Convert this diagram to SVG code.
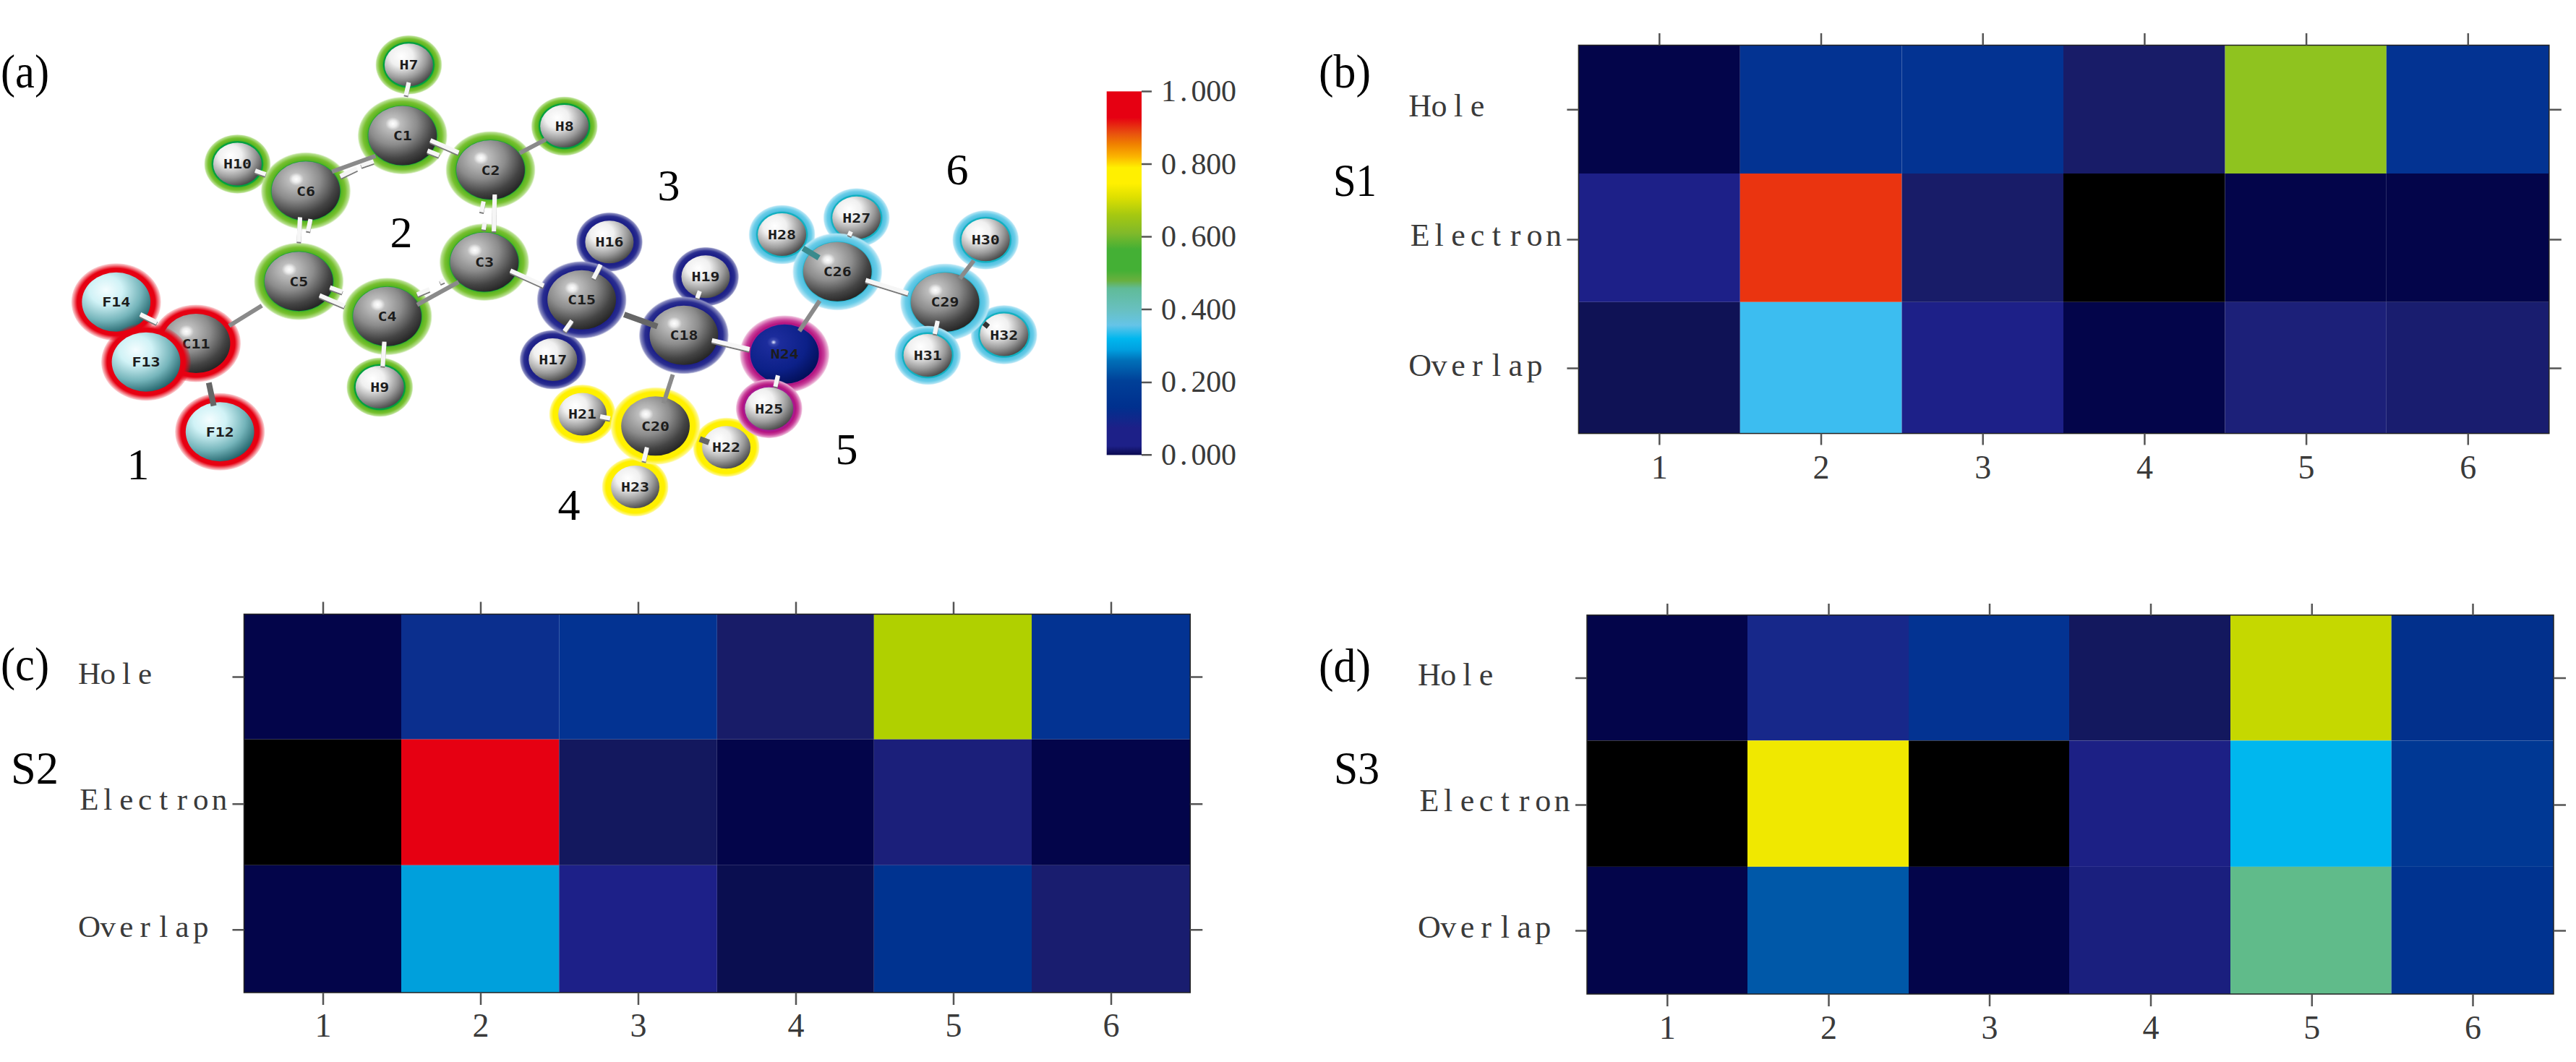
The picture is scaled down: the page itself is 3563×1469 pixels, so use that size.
<svg xmlns="http://www.w3.org/2000/svg" width="3563" height="1469" viewBox="0 0 3563 1469">
<style>
.t{font-family:"Liberation Serif",serif;fill:#000}
.pl{font-size:65px}.sl{font-size:64px}.num{font-size:62px;text-anchor:middle}
.m{font-family:"Liberation Serif",serif;fill:#3a3a3a;font-size:44px;text-anchor:middle}
.mc{font-size:43px}.xl{font-size:46px}
.cb{font-size:42px}
.tick{stroke:#555;stroke-width:2.5;fill:none}
.frame{fill:none;stroke:#222;stroke-width:1.5}
.al{font-family:"DejaVu Sans Mono",monospace;font-weight:700;font-size:18px;fill:#1c1c1c;text-anchor:middle;transform:scale(1.2,1)}
.C{rx:47.4px;ry:41px;fill:url(#sC)}
.H{rx:33.5px;ry:29.5px;fill:url(#sH)}
.F{rx:47.4px;ry:41px;fill:url(#sF)}
.N{rx:47.4px;ry:41px;fill:url(#sN)}
.hb{rx:62px;ry:53.5px}
.hs{rx:46px;ry:41px}
.r{fill:url(#hR)}.g{fill:url(#hG)}.b{fill:url(#hB)}.y{fill:url(#hY)}.p{fill:url(#hP)}.c{fill:url(#hC)}
.bw{stroke:#f6f6f6;stroke-width:6;fill:none}
.bg{stroke:#8a8a8a;stroke-width:6;fill:none}
.bd{stroke:#666;stroke-width:8;fill:none}
.bt{stroke:#3a8a8c;stroke-width:8;fill:none}
</style>
<defs>
<radialGradient id="sC" cx=".36" cy=".3" r=".78"><stop offset="0" stop-color="#fff"/><stop offset=".07" stop-color="#ececec"/><stop offset=".14" stop-color="#bdbdbd"/><stop offset=".45" stop-color="#8c8c8c"/><stop offset=".75" stop-color="#444"/><stop offset="1" stop-color="#1c1c1c"/></radialGradient>
<radialGradient id="sH" cx=".35" cy=".3" r=".8"><stop offset="0" stop-color="#fff"/><stop offset=".3" stop-color="#f0f0f0"/><stop offset=".65" stop-color="#9a9a9a"/><stop offset="1" stop-color="#333"/></radialGradient>
<radialGradient id="sF" cx=".35" cy=".3" r=".8"><stop offset="0" stop-color="#f4fdff"/><stop offset=".3" stop-color="#d0f2f6"/><stop offset=".65" stop-color="#74b4ba"/><stop offset="1" stop-color="#0f5058"/></radialGradient>
<radialGradient id="sN" cx=".34" cy=".3" r=".8"><stop offset="0" stop-color="#e8ecff"/><stop offset=".05" stop-color="#3a48b0"/><stop offset=".12" stop-color="#1c2c9c"/><stop offset=".6" stop-color="#0c2088"/><stop offset="1" stop-color="#000c50"/></radialGradient>
<radialGradient id="hR"><stop offset=".78" stop-color="#e60012"/><stop offset=".87" stop-color="#e60012"/><stop offset="1" stop-color="#e60012" stop-opacity=".15"/></radialGradient>
<radialGradient id="hG"><stop offset=".76" stop-color="#00a040"/><stop offset=".79" stop-color="#58b420"/><stop offset=".88" stop-color="#78c030"/><stop offset=".97" stop-color="#b8e090"/><stop offset="1" stop-color="#c8e8a8" stop-opacity=".3"/></radialGradient>
<radialGradient id="hB"><stop offset=".78" stop-color="#1d2088"/><stop offset=".87" stop-color="#2a2e90"/><stop offset=".97" stop-color="#8a8cc0"/><stop offset="1" stop-color="#a0a2d0" stop-opacity=".3"/></radialGradient>
<radialGradient id="hY"><stop offset=".78" stop-color="#fff000"/><stop offset=".88" stop-color="#fff000"/><stop offset=".97" stop-color="#fff880"/><stop offset="1" stop-color="#fff880" stop-opacity=".3"/></radialGradient>
<radialGradient id="hP"><stop offset=".76" stop-color="#a81890"/><stop offset=".8" stop-color="#b5157f"/><stop offset=".88" stop-color="#c8409a"/><stop offset=".97" stop-color="#e8a8d0"/><stop offset="1" stop-color="#e8a8d0" stop-opacity=".3"/></radialGradient>
<radialGradient id="hC"><stop offset=".76" stop-color="#10b0c0"/><stop offset=".79" stop-color="#50c0e0"/><stop offset=".88" stop-color="#68cce8"/><stop offset=".97" stop-color="#b0e4f4"/><stop offset="1" stop-color="#c0e8f8" stop-opacity=".3"/></radialGradient>
<linearGradient id="bar" x1="0" y1="0" x2="0" y2="1">
<stop offset="0" stop-color="#e60012"/><stop offset=".072" stop-color="#e60012"/><stop offset=".115" stop-color="#e8500f"/><stop offset=".145" stop-color="#f08000"/><stop offset=".18" stop-color="#fbb500"/><stop offset=".21" stop-color="#fff000"/><stop offset=".253" stop-color="#fff000"/><stop offset=".29" stop-color="#dfe000"/><stop offset=".34" stop-color="#a5c811"/><stop offset=".39" stop-color="#80b92a"/><stop offset=".434" stop-color="#44b035"/><stop offset=".492" stop-color="#44b035"/><stop offset=".52" stop-color="#68b03e"/><stop offset=".542" stop-color="#60bb98"/><stop offset=".6" stop-color="#68c0c0"/><stop offset=".643" stop-color="#65c4e8"/><stop offset=".68" stop-color="#00b7ee"/><stop offset=".71" stop-color="#00a0e0"/><stop offset=".74" stop-color="#0070b8"/><stop offset=".796" stop-color="#004098"/><stop offset=".868" stop-color="#00308e"/><stop offset=".926" stop-color="#1d2088"/><stop offset=".975" stop-color="#1d2088"/><stop offset="1" stop-color="#0a0a50"/>
</linearGradient>
<filter id="edge" x="-20%" y="-20%" width="140%" height="140%"><feDropShadow dx="0" dy="2" stdDeviation="0" flood-color="#777"/></filter>
</defs>
<rect width="3563" height="1469" fill="#fff"/>

<g id="atoms">
<g id="F14" transform="translate(160.7,417.8)"><ellipse class="hb r"/><ellipse class="F"/><text class="al" y="6.5">F14</text></g>
<g id="C11" transform="translate(271,475)"><ellipse class="hb r"/><ellipse class="C"/><text class="al" y="6.5">C11</text></g>
<g id="F12" transform="translate(304.2,597.2)"><ellipse class="hb r"/><ellipse class="F"/><text class="al" y="6.5">F12</text></g>
<g id="F13" transform="translate(202,500.7)"><ellipse class="hb r"/><ellipse class="F"/><text class="al" y="6.5">F13</text></g>
<g id="H7" transform="translate(565.4,89.7)"><ellipse class="hs g"/><ellipse class="H"/><text class="al" y="6.5">H7</text></g>
<g id="H8" transform="translate(780.7,174.5)"><ellipse class="hs g"/><ellipse class="H"/><text class="al" y="6.5">H8</text></g>
<g id="H10" transform="translate(328.4,226.9)"><ellipse class="hs g"/><ellipse class="H"/><text class="al" y="6.5">H10</text></g>
<g id="H9" transform="translate(525.3,535.6)"><ellipse class="hs g"/><ellipse class="H"/><text class="al" y="6.5">H9</text></g>
<g id="C1" transform="translate(556.8,187.6)"><ellipse class="hb g"/><ellipse class="C"/><text class="al" y="6.5">C1</text></g>
<g id="C2" transform="translate(678.5,235)"><ellipse class="hb g"/><ellipse class="C"/><text class="al" y="6.5">C2</text></g>
<g id="C6" transform="translate(423,264.2)"><ellipse class="hb g"/><ellipse class="C"/><text class="al" y="6.5">C6</text></g>
<g id="C5" transform="translate(413.3,389.2)"><ellipse class="hb g"/><ellipse class="C"/><text class="al" y="6.5">C5</text></g>
<g id="C3" transform="translate(669.9,362.6)"><ellipse class="hb g"/><ellipse class="C"/><text class="al" y="6.5">C3</text></g>
<g id="C4" transform="translate(535.6,437.7)"><ellipse class="hb g"/><ellipse class="C"/><text class="al" y="6.5">C4</text></g>
<g id="H16" transform="translate(842.9,334.8)"><ellipse class="hs b"/><ellipse class="H"/><text class="al" y="6.5">H16</text></g>
<g id="H17" transform="translate(764.8,497.5)"><ellipse class="hs b"/><ellipse class="H"/><text class="al" y="6.5">H17</text></g>
<g id="H19" transform="translate(976,382.7)"><ellipse class="hs b"/><ellipse class="H"/><text class="al" y="6.5">H19</text></g>
<g id="C15" transform="translate(804.6,414.8)"><ellipse class="hb b"/><ellipse class="C"/><text class="al" y="6.5">C15</text></g>
<g id="C18" transform="translate(945.9,463.8)"><ellipse class="hb b"/><ellipse class="C"/><text class="al" y="6.5">C18</text></g>
<g id="H22" transform="translate(1004.6,618.8)"><ellipse class="hs y"/><ellipse class="H"/><text class="al" y="6.5">H22</text></g>
<g id="H21" transform="translate(805.6,572.9)"><ellipse class="hs y"/><ellipse class="H"/><text class="al" y="6.5">H21</text></g>
<g id="H23" transform="translate(878.6,673.5)"><ellipse class="hs y"/><ellipse class="H"/><text class="al" y="6.5">H23</text></g>
<g id="C20" transform="translate(906.6,589.3)"><ellipse class="hb y"/><ellipse class="C"/><text class="al" y="6.5">C20</text></g>
<g id="N24" transform="translate(1085.2,489.8)"><ellipse class="hb p"/><ellipse class="N"/><text class="al" y="6.5">N24</text></g>
<g id="H25" transform="translate(1063.8,565.2)"><ellipse class="hs p"/><ellipse class="H"/><text class="al" y="6.5">H25</text></g>
<g id="H27" transform="translate(1184.7,301.2)"><ellipse class="hs c"/><ellipse class="H"/><text class="al" y="6.5">H27</text></g>
<g id="H28" transform="translate(1081.6,324.5)"><ellipse class="hs c"/><ellipse class="H"/><text class="al" y="6.5">H28</text></g>
<g id="C26" transform="translate(1158.2,375.8)"><ellipse class="hb c"/><ellipse class="C"/><text class="al" y="6.5">C26</text></g>
<g id="H30" transform="translate(1363.3,331.8)"><ellipse class="hs c"/><ellipse class="H"/><text class="al" y="6.5">H30</text></g>
<g id="H32" transform="translate(1388.8,463)"><ellipse class="hs c"/><ellipse class="H"/><text class="al" y="6.5">H32</text></g>
<g id="C29" transform="translate(1307.1,417.9)"><ellipse class="hb c"/><ellipse class="C"/><text class="al" y="6.5">C29</text></g>
<g id="H31" transform="translate(1283.2,491.4)"><ellipse class="hs c"/><ellipse class="H"/><text class="al" y="6.5">H31</text></g>
</g>

<g id="connectors">
<g filter="url(#edge)" class="bw">
<path d="M565.4 114L561.4 131.8"/>
<path d="M595.3 193.9L634.3 210.9"/>
<path d="M591.3 208.4L607.3 214.7"/>
<path d="M684.3 269L683.1 320"/>
<path d="M668.8 278.7L665.9 293.3"/>
<path d="M670.5 307.8L668.8 317.5"/>
<path d="M353 236L367.4 241"/>
<path d="M415 300.5L413.3 334.5"/>
<path d="M429.4 303L426 320"/>
<path d="M442 408.6L476.5 423.2"/>
<path d="M456.4 397.5L473.6 403.8"/>
<path d="M577 407.2L594.1 399.9"/>
<path d="M608.5 390.2L614.2 387.8"/>
<path d="M531.6 472.6L529.3 506.5"/>
<path d="M706 374.2L752 395"/>
<path d="M194 434.8L217 446"/>
<path d="M984.7 470.7L1036.7 483"/>
<path d="M830.1 576L843.9 578.6"/>
<path d="M1076 519.3L1072.4 534.6"/>
<path d="M1197.4 387.3L1256.1 405.6"/>
<path d="M499.4 228.8L516.7 223"/>
<path d="M470.7 243.8L493.7 232.7"/>
<path d="M791 443.5L780.7 458"/>
<path d="M830.7 366L820.9 385.4"/>
<path d="M967.9 402.6L964.3 412.2"/>
<path d="M894.9 618.8L890.3 638"/>
<path d="M1296.9 443.9L1292.9 461.9"/>
<path d="M1177 320.3L1174.5 326"/>
</g>
<g class="bg">
<path d="M519.5 215.7L459.2 237.5"/>
<path d="M718.7 211.8L754.9 192.9"/>
<path d="M577 421.7L634.3 390.2"/>
<path d="M362.2 422.7L316.9 450.8"/>
<path d="M930.6 518.2L917.9 557.6"/>
<path d="M1133.7 416L1105.6 458"/>
<path d="M1346.9 360.5L1327.6 385.4"/>
</g>
<g class="bd">
<path d="M288.8 529.3L295.6 561.3"/>
<path d="M863.3 435L909.2 451.6"/>
<path d="M967.9 607.3L980.6 611.9"/>
</g>
<path class="bt" d="M1110.7 343.3L1132.7 356.7"/>
<path d="M1361 447L1367 452" stroke="#333" stroke-width="7" fill="none"/>
</g>

<g id="panel-a-labels">
<text class="t pl" x="1" y="121" textLength="67" lengthAdjust="spacingAndGlyphs">(a)</text>
<text class="t num" x="191" y="663">1</text>
<text class="t num" x="555" y="342">2</text>
<text class="t num" x="925" y="277">3</text>
<text class="t num" x="787" y="719">4</text>
<text class="t num" x="1171" y="642">5</text>
<text class="t num" x="1324" y="255">6</text>
</g>

<g id="colorbar">
<rect x="1530.7" y="126.4" width="48.3" height="503" fill="url(#bar)"/>
<path class="tick" d="M1579 126.4h14M1579 227h14M1579 327.5h14M1579 428h14M1579 529h14M1579 629.3h14"/>
<g class="m cb">
<text x="1616.4 1637.2 1658 1678.8 1699.6" y="139.5">1.000</text>
<text x="1616.4 1637.2 1658 1678.8 1699.6" y="240.5">0.800</text>
<text x="1616.4 1637.2 1658 1678.8 1699.6" y="341">0.600</text>
<text x="1616.4 1637.2 1658 1678.8 1699.6" y="441.5">0.400</text>
<text x="1616.4 1637.2 1658 1678.8 1699.6" y="542">0.200</text>
<text x="1616.4 1637.2 1658 1678.8 1699.6" y="642.7">0.000</text>
</g>
</g>

<g id="panel-b">
<g id="b-cells">
<rect x="2183.4" y="62.5" width="223.4" height="177.5" fill="#03054a"/>
<rect x="2406.8" y="62.5" width="223.7" height="177.5" fill="#033392"/>
<rect x="2630.5" y="62.5" width="223.5" height="177.5" fill="#033392"/>
<rect x="2854" y="62.5" width="223.6" height="177.5" fill="#181c68"/>
<rect x="3077.6" y="62.5" width="223.2" height="177.5" fill="#8fc31f"/>
<rect x="3300.8" y="62.5" width="225" height="177.5" fill="#033392"/>
<rect x="2183.4" y="240" width="223.4" height="177.8" fill="#1d2088"/>
<rect x="2406.8" y="240" width="223.7" height="177.8" fill="#ea3410"/>
<rect x="2630.5" y="240" width="223.5" height="177.8" fill="#181c68"/>
<rect x="2854" y="240" width="223.6" height="177.8" fill="#000"/>
<rect x="3077.6" y="240" width="223.2" height="177.8" fill="#03054a"/>
<rect x="3300.8" y="240" width="225" height="177.8" fill="#03054a"/>
<rect x="2183.4" y="417.8" width="223.4" height="181.8" fill="#0f1255"/>
<rect x="2406.8" y="417.8" width="223.7" height="181.8" fill="#3cbdf0"/>
<rect x="2630.5" y="417.8" width="223.5" height="181.8" fill="#1d2088"/>
<rect x="2854" y="417.8" width="223.6" height="181.8" fill="#03054a"/>
<rect x="3077.6" y="417.8" width="223.2" height="181.8" fill="#1c2079"/>
<rect x="3300.8" y="417.8" width="225" height="181.8" fill="#191d6f"/>
</g>
<rect class="frame" x="2183.4" y="62.5" width="1342.4" height="537.1"/>
<path class="tick" d="M2295.3 46v16.5M2519 46v16.5M2742.7 46v16.5M2966.4 46v16.5M3190.1 46v16.5M3413.8 46v16.5M2295.3 599.6v16M2519 599.6v16M2742.7 599.6v16M2966.4 599.6v16M3190.1 599.6v16M3413.8 599.6v16M2167.4 151.7h16M2167.4 331.6h16M2167.4 509.5h16M3525.8 151.7h17M3525.8 331.6h17M3525.8 509.5h17"/>
<text class="m" x="1964.2 1990.6 2017 2043.4" y="161.4">Hole</text>
<text class="m" x="1964.2 1990.6 2017 2043.4 2069.8 2096.2 2122.6 2149" y="340.3">Electron</text>
<text class="m" x="1964.2 1990.6 2017 2043.4 2069.8 2096.2 2122.6" y="519.6">Overlap</text>
<g class="m xl">
<text x="2295.3" y="661.6">1</text><text x="2519" y="661.6">2</text><text x="2742.7" y="661.6">3</text><text x="2966.4" y="661.6">4</text><text x="3190.1" y="661.6">5</text><text x="3413.8" y="661.6">6</text>
</g>
<text class="t pl" x="1824" y="121" textLength="72" lengthAdjust="spacingAndGlyphs">(b)</text>
<text class="t sl" x="1844" y="271.4" textLength="60" lengthAdjust="spacingAndGlyphs">S1</text>
</g>

<g id="panel-c">
<g id="c-cells">
<rect x="337.5" y="849.5" width="217.5" height="173.2" fill="#03054a"/>
<rect x="555" y="849.5" width="218.3" height="173.2" fill="#0b2f8e"/>
<rect x="773.3" y="849.5" width="218.5" height="173.2" fill="#033392"/>
<rect x="991.8" y="849.5" width="217" height="173.2" fill="#181c68"/>
<rect x="1208.8" y="849.5" width="218.2" height="173.2" fill="#b0d000"/>
<rect x="1427" y="849.5" width="219.3" height="173.2" fill="#033392"/>
<rect x="337.5" y="1022.7" width="217.5" height="174.1" fill="#000"/>
<rect x="555" y="1022.7" width="218.3" height="174.1" fill="#e60012"/>
<rect x="773.3" y="1022.7" width="218.5" height="174.1" fill="#13185e"/>
<rect x="991.8" y="1022.7" width="217" height="174.1" fill="#03054a"/>
<rect x="1208.8" y="1022.7" width="218.2" height="174.1" fill="#1b1f7a"/>
<rect x="1427" y="1022.7" width="219.3" height="174.1" fill="#03054a"/>
<rect x="337.5" y="1196.8" width="217.5" height="176.2" fill="#03054a"/>
<rect x="555" y="1196.8" width="218.3" height="176.2" fill="#00a0dc"/>
<rect x="773.3" y="1196.8" width="218.5" height="176.2" fill="#1d2088"/>
<rect x="991.8" y="1196.8" width="217" height="176.2" fill="#0a0e50"/>
<rect x="1208.8" y="1196.8" width="218.2" height="176.2" fill="#003390"/>
<rect x="1427" y="1196.8" width="219.3" height="176.2" fill="#191d6f"/>
</g>
<rect class="frame" x="337.5" y="849.5" width="1308.8" height="523.5"/>
<path class="tick" d="M447 832.4v17M665 832.4v17M883 832.4v17M1101 832.4v17M1319 832.4v17M1537 832.4v17M447 1373v17M665 1373v17M883 1373v17M1101 1373v17M1319 1373v17M1537 1373v17M321.5 936.5h16M321.5 1112.3h16M321.5 1286.3h16M1646.3 936.5h17M1646.3 1112.3h17M1646.3 1286.3h17"/>
<text class="m mc" x="123.5 149.2 174.9 200.6" y="946.3">Hole</text>
<text class="m mc" x="123.5 149.2 174.9 200.6 226.3 252 277.7 303.4" y="1120">Electron</text>
<text class="m mc" x="123.5 149.2 174.9 200.6 226.3 252 277.7" y="1295.7">Overlap</text>
<g class="m xl">
<text x="447" y="1434.4">1</text><text x="665" y="1434.4">2</text><text x="883" y="1434.4">3</text><text x="1101" y="1434.4">4</text><text x="1319" y="1434.4">5</text><text x="1537" y="1434.4">6</text>
</g>
<text class="t pl" x="1" y="941" textLength="67" lengthAdjust="spacingAndGlyphs">(c)</text>
<text class="t sl" x="15" y="1084" textLength="66" lengthAdjust="spacingAndGlyphs">S2</text>
</g>

<g id="panel-d">
<g id="d-cells">
<rect x="2195" y="850.8" width="222" height="173.6" fill="#03054a"/>
<rect x="2417" y="850.8" width="223" height="173.6" fill="#17288a"/>
<rect x="2640" y="850.8" width="222" height="173.6" fill="#033392"/>
<rect x="2862" y="850.8" width="223" height="173.6" fill="#13185e"/>
<rect x="3085" y="850.8" width="222.7" height="173.6" fill="#c5d800"/>
<rect x="3307.7" y="850.8" width="224.3" height="173.6" fill="#02308c"/>
<rect x="2195" y="1024.4" width="222" height="174.5" fill="#000"/>
<rect x="2417" y="1024.4" width="223" height="174.5" fill="#f0e800"/>
<rect x="2640" y="1024.4" width="222" height="174.5" fill="#000"/>
<rect x="2862" y="1024.4" width="223" height="174.5" fill="#1c2085"/>
<rect x="3085" y="1024.4" width="222.7" height="174.5" fill="#00b7ee"/>
<rect x="3307.7" y="1024.4" width="224.3" height="174.5" fill="#003894"/>
<rect x="2195" y="1198.9" width="222" height="176.1" fill="#03054a"/>
<rect x="2417" y="1198.9" width="223" height="176.1" fill="#0058a8"/>
<rect x="2640" y="1198.9" width="222" height="176.1" fill="#03054a"/>
<rect x="2862" y="1198.9" width="223" height="176.1" fill="#1a1f7e"/>
<rect x="3085" y="1198.9" width="222.7" height="176.1" fill="#60bb8a"/>
<rect x="3307.7" y="1198.9" width="224.3" height="176.1" fill="#003390"/>
</g>
<rect class="frame" x="2195" y="850.8" width="1337" height="524.2"/>
<path class="tick" d="M2306.3 835v16M2529.5 835v16M2752 835v16M2975 835v16M3197.8 835v16M3420.5 835v16M2306.3 1375v17M2529.5 1375v17M2752 1375v17M2975 1375v17M3197.8 1375v17M3420.5 1375v17M2179 938h16M2179 1113.6h16M2179 1287.6h16M3532 938h17M3532 1113.6h17M3532 1287.6h17"/>
<text class="m" x="1977 2003.2 2029.4 2055.6" y="948">Hole</text>
<text class="m" x="1977 2003.2 2029.4 2055.6 2081.8 2108 2134.2 2160.4" y="1122">Electron</text>
<text class="m" x="1977 2003.2 2029.4 2055.6 2081.8 2108 2134.2" y="1297">Overlap</text>
<g class="m xl">
<text x="2306.3" y="1436.5">1</text><text x="2529.5" y="1436.5">2</text><text x="2752" y="1436.5">3</text><text x="2975" y="1436.5">4</text><text x="3197.8" y="1436.5">5</text><text x="3420.5" y="1436.5">6</text>
</g>
<text class="t pl" x="1824" y="943" textLength="72" lengthAdjust="spacingAndGlyphs">(d)</text>
<text class="t sl" x="1845" y="1084" textLength="63" lengthAdjust="spacingAndGlyphs">S3</text>
</g>
</svg>
